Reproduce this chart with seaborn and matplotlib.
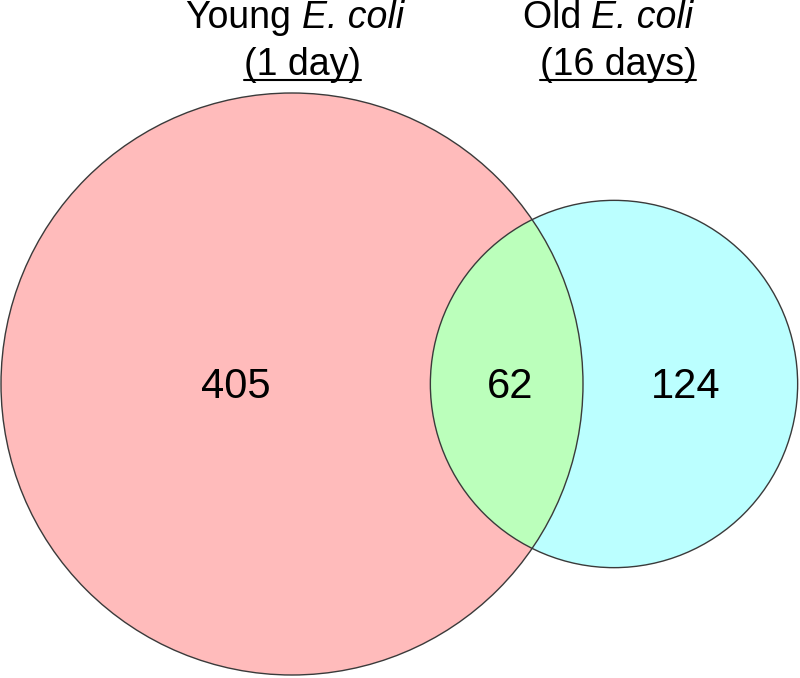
import numpy as np
import matplotlib
matplotlib.use("Agg")
import matplotlib.pyplot as plt
from matplotlib.patches import Circle
import seaborn as sns

# Venn counts: only young, shared, only old
regions = ["young_only", "shared", "old_only"]
counts = [405, 62, 124]
title_plain = ["Young ", "Old "]
title_italic = ["E. coli", "E. coli"]
set_subtitles = ["(1 day)", "(16 days)"]
fill_colors = ["#ffbbbb", "#bbffbb", "#bbffff"]

sns.set_style("white")
plt.rcParams["font.family"] = ["Liberation Sans", "DejaVu Sans"]
plt.rcParams["text.color"] = "black"

fig = plt.figure(figsize=(8, 6.78), dpi=100)
ax = fig.add_axes([0, 0, 1, 1])
ax.set_xlim(0, 800)
ax.set_ylim(678, 0)
ax.axis("off")

# circle areas proportional to set sizes
young_total = counts[0] + counts[1]
old_total = counts[1] + counts[2]
r_young = 291
r_old = r_young * np.sqrt(old_total / young_total)
c_young = (292, 384)
c_old = (614, 384)

left = Circle(c_young, r_young, facecolor=fill_colors[0], edgecolor="none")
right = Circle(c_old, r_old, facecolor=fill_colors[2], edgecolor="none")
ax.add_patch(left)
ax.add_patch(right)

# overlap region: green copy of right circle clipped to left circle
lens = Circle(c_old, r_old, facecolor=fill_colors[1], edgecolor="none")
ax.add_patch(lens)
lens.set_clip_path(left)

for c, r in [(c_young, r_young), (c_old, r_old)]:
    ax.add_patch(Circle(c, r, facecolor="none", edgecolor="#3a3a3a", linewidth=1.0))

# counts
num_x = [236, 510, 686]
for x, n in zip(num_x, counts):
    ax.text(x, 398, str(n), ha="center", va="baseline", fontsize=30, color="black")

fig.canvas.draw()
renderer = fig.canvas.get_renderer()
inv = ax.transData.inverted()


def width_data(t):
    bb = t.get_window_extent(renderer)
    (x0, _), (x1, _) = inv.transform([(bb.x0, bb.y0), (bb.x1, bb.y0)])
    return x0, x1


# titles: plain word + italic species name, centred as one line
title_x = [295, 608]
sub_x = [302, 618]
for tx, sx, p, it, s in zip(title_x, sub_x, title_plain, title_italic, set_subtitles):
    full = ax.text(0, 28, p + it, fontsize=27, va="baseline")
    x0, x1 = width_data(full)
    full.remove()
    start = tx - (x1 - x0) / 2
    ax.text(start, 28, p, fontsize=27, va="baseline", ha="left", color="black")
    # offset of the italic part = width of "word x" minus width of "x"
    sp = ax.text(0, 0, p.strip() + " x", fontsize=27)
    b0, b1 = width_data(sp)
    sp.remove()
    xx = ax.text(0, 0, "x", fontsize=27)
    c0, c1 = width_data(xx)
    xx.remove()
    ax.text(start + (b1 - b0) - (c1 - c0), 28, it, fontsize=27, va="baseline",
            ha="left", style="italic", color="black")

    st = ax.text(sx, 75, s, ha="center", va="baseline", fontsize=27, color="black")
    u0, u1 = width_data(st)
    ax.plot([u0, u1], [80, 80], color="black", linewidth=1.5)

fig.savefig("out.png", dpi=100)
